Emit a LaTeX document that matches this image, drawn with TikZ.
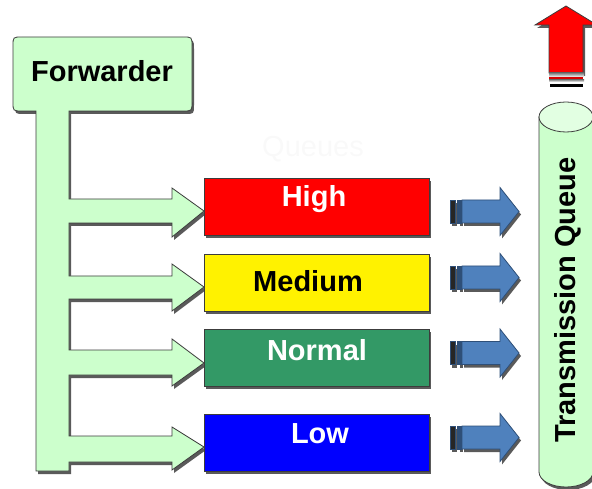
\documentclass[tikz,border=0pt]{standalone}
\usepackage{fontspec}
\setmainfont{Liberation Sans}
\usetikzlibrary{calc,shadows}
\definecolor{mint}{HTML}{CCFFCC}
\definecolor{mintlight}{HTML}{E2FFE2}
\definecolor{edge}{HTML}{3C3C3C}
\definecolor{shade}{HTML}{5A5A5A}
\definecolor{qgreen}{HTML}{339966}
\definecolor{steel}{HTML}{4F81BD}
\definecolor{steeldark}{HTML}{2E4F78}
\begin{document}
\begin{tikzpicture}[x=1pt,y=-1pt,line join=miter,
  drop/.style={drop shadow={shadow xshift=2pt,shadow yshift=-3pt,fill=shade,opacity=1}},
  qbox/.style={draw=edge,line width=0.8pt,minimum width=225pt,minimum height=57pt,
    inner sep=0pt,outer sep=0pt,drop},
  qtext/.style={anchor=base,inner sep=0pt,font=\fontsize{29}{34}\selectfont\bfseries},
  block/.style={draw=edge,line width=0.8pt,drop},
]
\useasboundingbox (0,0) rectangle (592,489);
\begin{scope}
\clip (0,0) rectangle (592,489);

% faint heading above the queues
\node[anchor=base,inner sep=0pt,text=black!2.5,font=\fontsize{29}{34}\selectfont] (qhead) at (313,157) {Queues};

% forwarder: rounded box, stem and four branch arrows as one outline
\filldraw[block,fill=mint]
  (36,111) -- (22,111) .. controls (13,111) .. (13,102) -- (13,46)
  .. controls (13,37) .. (22,37) -- (183,37) .. controls (192,37) .. (192,46)
  -- (192,102) .. controls (192,111) .. (183,111) -- (69,111)
  -- (69,199) -- (172,199) -- (172,188) -- (204,211) -- (172,237) -- (172,223) -- (69,223)
  -- (69,276) -- (172,276) -- (172,264) -- (204,287) -- (172,311) -- (172,299) -- (69,299)
  -- (69,350) -- (172,350) -- (172,339) -- (204,363) -- (172,386) -- (172,375) -- (69,375)
  -- (69,436) -- (172,436) -- (172,427) -- (204,447) -- (172,470) -- (172,462) -- (69,462)
  -- (69,471) -- (36,471) -- cycle;
\node[qtext] (fwd) at (102,82) {Forwarder};

% priority queues
\node[qbox,fill=red]    (high)   at (316.5,206.5) {};
\node[qbox,fill=yellow] (medium) at (316.5,282.5) {};
\node[qbox,fill=qgreen] (normal) at (316.5,357.5) {};
\node[qbox,fill=blue]   (low)    at (316.5,442.5) {};
\node[qtext,text=white] (highlabel)   at (314,207) {High};
\node[qtext,text=black] (mediumlabel) at (308,291) {Medium};
\node[qtext,text=white] (normallabel) at (317,360) {Normal};
\node[qtext,text=white] (lowlabel)    at (320,443) {Low};

% striped arrows from the queues to the transmission queue
\foreach \c in {211.5,277.5,353,437.5}{
  \filldraw[block,draw=steeldark,fill=black!85,drop] (450,\c-11.5) rectangle (455,\c+11.5);
  \filldraw[block,draw=steeldark,fill=steeldark,drop] (457.5,\c-11.5) rectangle (461,\c+11.5);
  \filldraw[block,draw=steeldark,fill=steel]
    (462,\c-11.5) -- (500,\c-11.5) -- (500,\c-24) -- (519,\c)
    -- (500,\c+24) -- (500,\c+11.5) -- (462,\c+11.5) -- cycle;
}

% transmission queue cylinder
\filldraw[block,fill=mint]
  (539,117) -- (539,472) arc[start angle=180,end angle=360,x radius=27pt,y radius=15pt]
  -- (593,117) -- cycle;
\filldraw[draw=edge,line width=0.8pt,fill=mintlight] (566,117) ellipse [x radius=27pt,y radius=15pt];
\node[qtext,rotate=90] (tq) at (575,300) {Transmission Queue};

% outgoing striped arrow above the cylinder
\filldraw[block,fill=red]
  (566,6) -- (597,25) -- (583,25) -- (583,73) -- (549,73) -- (549,25) -- (535,25) -- cycle;
\fill[shade] (549,73) rectangle (584,77);
\fill[red!85!black] (549,77) rectangle (583,79.5);
\fill[shade] (549,79.5) rectangle (584,82);
\fill[black] (550,84) rectangle (583,87);
\end{scope}
\end{tikzpicture}
\end{document}
